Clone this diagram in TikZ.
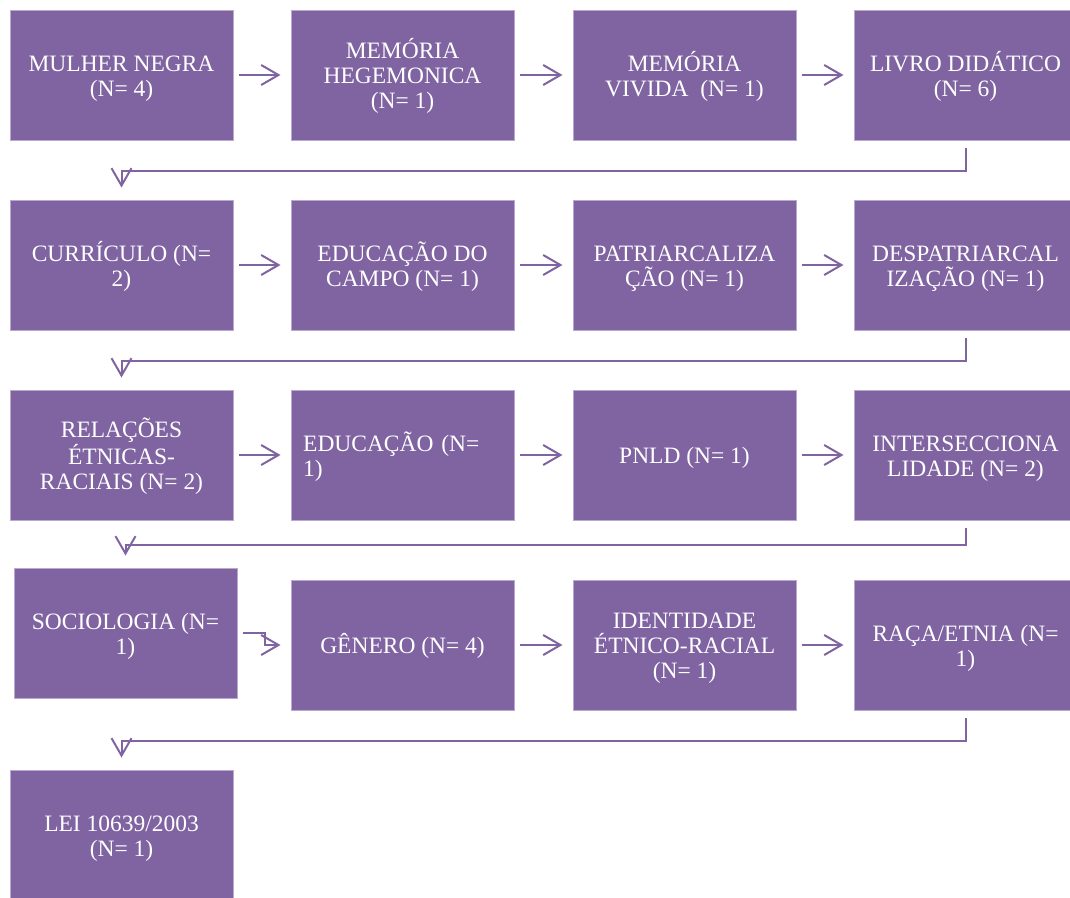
\documentclass[tikz,border=0pt]{standalone}
\usepackage{fontspec}
\setmainfont{Liberation Serif}
\usetikzlibrary{arrows.meta,calc}
\definecolor{boxfill}{HTML}{8064A2}
\definecolor{boxline}{HTML}{B9A9D0}
\definecolor{linkcol}{HTML}{8064A2}
% struts giving every text block the same line box at top and bottom
\newcommand{\upstrut}{\rule{0pt}{17.25pt}}
\newcommand{\downstrut}{\rule[-4.5pt]{0pt}{4.5pt}}
\begin{document}
\begin{tikzpicture}[x=0.75pt,y=-0.75pt,
  termbox/.style={rectangle,fill=boxfill,draw=boxline,line width=0.75pt,
    minimum width=167.25pt,minimum height=97.5pt,inner sep=0pt,
    text=white,align=center,font=\fontsize{17.6}{18.75}\selectfont,
    execute at end node={\downstrut}},
  leftbox/.style={termbox,text width=149pt,align=left},
  link/.style={draw=linkcol,line width=1.5pt,
    -{Straight Barb[length=13pt,width=15pt,line width=1.5pt]}},
  elbow/.style={link}]
\useasboundingbox (0,0) rectangle (1070,897);

% row 1
\node[termbox] (a1) at (121.5,75) {\upstrut MULHER NEGRA\\(N= 4)};
\node[termbox] (b1) at (402.5,75) {\upstrut MEMÓRIA\\HEGEMONICA\\(N= 1)};
\node[termbox] (c1) at (684.5,75) {\upstrut MEMÓRIA\\VIVIDA\ \ (N= 1)};
\node[termbox] (d1) at (965.5,75) {\upstrut LIVRO DIDÁTICO\\(N= 6)};
% row 2
\node[termbox] (a2) at (121.5,265) {\upstrut CURRÍCULO (N=\\2)};
\node[termbox] (b2) at (402.5,265) {\upstrut EDUCAÇÃO DO\\CAMPO (N= 1)};
\node[termbox] (c2) at (684.5,265) {\upstrut PATRIARCALIZA\\ÇÃO (N= 1)};
\node[termbox] (d2) at (965.5,265) {\upstrut DESPATRIARCAL\\IZAÇÃO (N= 1)};
% row 3
\node[termbox] (a3) at (121.5,455) {\upstrut RELAÇÕES\\ÉTNICAS-\\RACIAIS (N= 2)};
\node[leftbox] (b3) at (402.5,455) {\upstrut EDUCAÇÃO (N=\\1)};
\node[termbox] (c3) at (684.5,455) {\upstrut PNLD (N= 1)};
\node[termbox] (d3) at (965.5,455) {\upstrut INTERSECCIONA\\LIDADE (N= 2)};
% row 4
\node[termbox] (a4) at (125.5,633) {\upstrut SOCIOLOGIA (N=\\1)};
\node[termbox] (b4) at (402.5,645) {\upstrut GÊNERO (N= 4)};
\node[termbox] (c4) at (684.5,645) {\upstrut IDENTIDADE\\ÉTNICO-RACIAL\\(N= 1)};
\node[termbox] (d4) at (965.5,645) {\upstrut RAÇA/ETNIA (N=\\1)};
% row 5
\node[termbox] (a5) at (121.5,835) {\upstrut LEI 10639/2003\\(N= 1)};

% straight links within a row
\foreach \p/\q in {a1/b1,b1/c1,c1/d1,a2/b2,b2/c2,c2/d2,a3/b3,b3/c3,c3/d3,b4/c4,c4/d4}
  \draw[link] ($(\p.east)+(5,0)$) -- ($(\q.west)+(-10,0)$);
\draw[link] ($(a4.east)+(5,0)$) -- ++(22,0) |- ($(b4.west)+(-10,0)$);

% links from the end of a row to the start of the next one
\draw[elbow] ($(d1.south)+(0,7)$) -- ($(d1.south)+(0,30)$) -| ($(a2.north)+(0,-12)$);
\draw[elbow] ($(d2.south)+(0,7)$) -- ($(d2.south)+(0,30)$) -| ($(a3.north)+(0,-12)$);
\draw[elbow] ($(d3.south)+(0,7)$) -- ($(d3.south)+(0,24)$) -| ($(a4.north)+(0,-12)$);
\draw[elbow] ($(d4.south)+(0,7)$) -- ($(d4.south)+(0,30)$) -| ($(a5.north)+(0,-12)$);
\end{tikzpicture}
\end{document}
